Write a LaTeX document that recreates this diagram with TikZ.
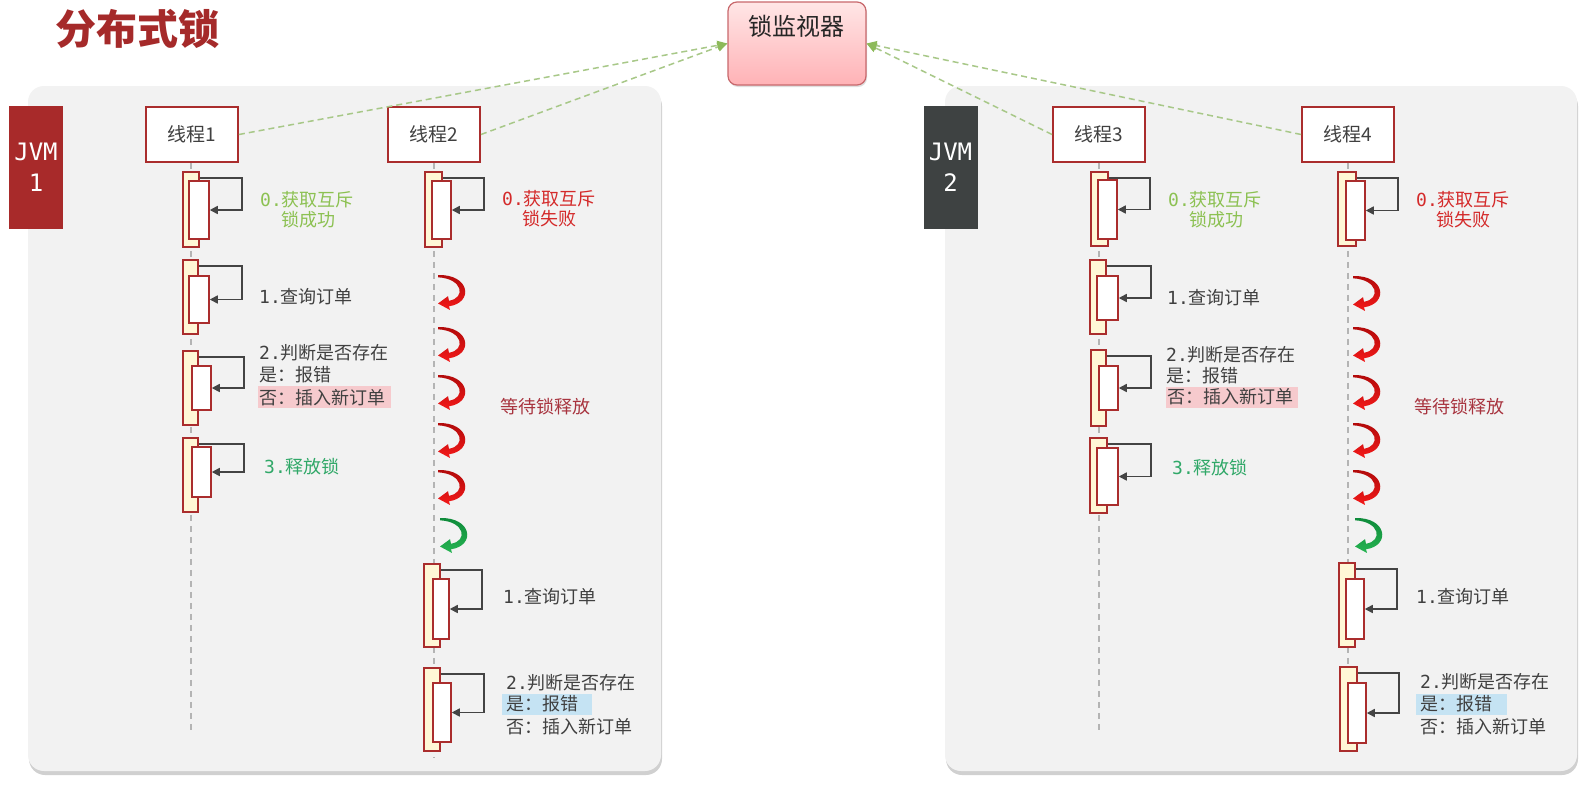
\documentclass[tikz,border=0pt]{standalone}
\usepackage{fontspec}
\setmainfont{Noto Sans CJK SC}
\newfontfamily\monof{DejaVu Sans Mono}
\usetikzlibrary{arrows.meta,shadows,calc}
\definecolor{dred}{HTML}{AA2D2D}
\definecolor{titlered}{HTML}{A52A2A}
\definecolor{jvmred}{HTML}{A82A2A}
\definecolor{jvmgray}{HTML}{3E4242}
\definecolor{panelbg}{HTML}{F2F2F2}
\definecolor{actfill}{HTML}{FFF7D6}
\definecolor{loopgray}{HTML}{444444}
\definecolor{lifegray}{HTML}{B4B4B4}
\definecolor{txtgray}{HTML}{404040}
\definecolor{okgreen}{HTML}{8CC152}
\definecolor{failred}{HTML}{D42A2A}
\definecolor{relgreen}{HTML}{30A868}
\definecolor{waitred}{HTML}{A8343F}
\definecolor{hlpink}{HTML}{F6CACD}
\definecolor{hlblue}{HTML}{C5E3F3}
\definecolor{syncgreen}{HTML}{A8C888}
\definecolor{synchead}{HTML}{8DBA5A}
\definecolor{monborder}{HTML}{C8686C}
\definecolor{montop}{HTML}{FFE6E6}
\definecolor{monbot}{HTML}{FFB2B6}
\definecolor{wred1}{HTML}{B00A0A}
\definecolor{wred2}{HTML}{F41A1A}
\definecolor{wgreen1}{HTML}{0E8A3A}
\definecolor{wgreen2}{HTML}{26B452}

\tikzset{
  panel/.style={fill=panelbg, rounded corners=16pt, drop shadow={shadow xshift=1pt, shadow yshift=-4pt, opacity=0.3, fill=black!60}},
  jvmbox/.style={inner sep=0pt, minimum width=54pt, minimum height=123pt, text=white, align=center, font=\monof\fontsize{24}{31}\selectfont},
  threadbox/.style={draw=dred, line width=1.9pt, fill=white, inner sep=0pt, minimum width=92pt, minimum height=55pt, font=\fontsize{19}{22}\selectfont, text=txtgray},
  monbox/.style={draw=monborder, line width=1.2pt, top color=montop, bottom color=monbot, rounded corners=9pt, inner sep=0pt, minimum width=138pt, minimum height=83pt, drop shadow={shadow xshift=1pt, shadow yshift=-2pt, opacity=0.25}},
  syncline/.style={draw=syncgreen, line width=1.5pt, dash pattern=on 6pt off 4pt, -{Triangle[length=10pt,width=9pt,color=synchead,fill=synchead]}},
  lifeline/.style={draw=lifegray, line width=1.5pt, dash pattern=on 6pt off 5pt},
  actout/.style={draw=dred, line width=1.5pt, fill=actfill, inner sep=0pt},
  actin/.style={draw=dred, line width=1.5pt, fill=white, inner sep=0pt},
  selfloop/.style={draw=loopgray, line width=1.6pt, -{Triangle[length=8pt,width=8pt]}},
  txt/.style={inner sep=0pt, anchor=west, font=\fontsize{18}{22}\selectfont, text=txtgray},
  ctxt/.style={inner sep=0pt, anchor=center, font=\fontsize{18}{22}\selectfont},
}

\newcommand\actv[9]{%
  \node[actout, minimum width={(#3-#2)*1pt}, minimum height={(#5-#4)*1pt}] (#1o) at ({(#2+#3)/2},{(#4+#5)/2}) {};
  \node[actin, minimum width={(#7-#6)*1pt}, minimum height={(#9-#8)*1pt}] (#1i) at ({(#6+#7)/2},{(#8+#9)/2}) {};
  \draw[selfloop] ([yshift=-7pt]#1o.north east) -| ([xshift=32pt]#1i.east) -- (#1i.east);
}
\newcommand\waitarrow[4]{%
  \path[top color=#3, bottom color=#4, shift={(#1,#2)}, yscale=0.92]
    (0,0) .. controls (32,-1) and (36,30) .. (11,34) -- (12,38) -- (0,31) -- (10,23) -- (11,28)
    .. controls (28,25) and (25,4) .. (0,2.5) -- cycle;
}

\begin{document}
\begin{tikzpicture}[x=1pt,y=-1pt]
\useasboundingbox (0,0) rectangle (1595,785);
\fill[white] (0,0) rectangle (1595,785);

% panels
\path[panel] (28,86) rectangle (661,771);
\path[panel] (945,86) rectangle (1577,771);

% title
\node[inner sep=0pt, anchor=west, text=titlered, font=\fontsize{41}{48}\selectfont\bfseries] (title) at (55,29) {分布式锁};

% JVM boxes
\node[jvmbox, fill=jvmred] (jvm1) at (36,167.5) {JVM\\1};
\node[jvmbox, fill=jvmgray] (jvm2) at (950.5,167) {JVM\\2};

% monitor
\node[monbox] (mon) at (797,43.5) {};
\node[inner sep=0pt, font=\fontsize{24}{28}\selectfont, text=black!85] (montxt) at (796,26) {锁监视器};

% thread boxes
\node[threadbox] (t1) at (192,134.5) {线程1};
\node[threadbox] (t2) at (434,134.5) {线程2};
\node[threadbox] (t3) at (1099,134.5) {线程3};
\node[threadbox] (t4) at (1348,134.5) {线程4};

% dashed sync arrows
\draw[syncline] (t1.east) -- (mon.west);
\draw[syncline] (t2.east) -- (mon.west);
\draw[syncline] (t3.west) -- (mon.east);
\draw[syncline] (t4.west) -- (mon.east);

% lifelines
\coordinate (e1) at (191,733);
\coordinate (e2) at (434,758);
\coordinate (e3) at (1099,733);
\coordinate (e4) at (1348,756);
\draw[lifeline] (e1 |- t1.south) -- (e1);
\draw[lifeline] (t2.south) -- (t2.south |- e2);
\draw[lifeline] (t3.south) -- (t3.south |- e3);
\draw[lifeline] (t4.south) -- (t4.south |- e4);

% activations
\actv{a0}{183}{199}{172}{247}{189}{209}{181}{239}
\actv{a1}{183}{198}{260}{334}{189}{209}{276}{323}
\actv{a2}{183}{198}{351}{425}{192}{211}{366}{410}
\actv{a3}{183}{198}{438}{512}{192}{211}{447}{497}
\actv{b0}{425}{442}{172}{247}{432}{451}{181}{239}
\actv{b1}{424}{440}{564}{647}{433}{449}{579}{639}
\actv{b2}{424}{440}{668}{751}{433}{451}{683}{742}
\actv{c0}{1091}{1108}{172}{246}{1098}{1117}{180}{239}
\actv{c1}{1090}{1106}{260}{334}{1097}{1118}{276}{320}
\actv{c2}{1091}{1106}{350}{426}{1099}{1118}{366}{410}
\actv{c3}{1090}{1107}{438}{513}{1097}{1118}{448}{505}
\actv{d0}{1338}{1356}{172}{246}{1346}{1365}{181}{240}
\actv{d1}{1339}{1355}{563}{647}{1346}{1364}{579}{639}
\actv{d2}{1340}{1357}{667}{751}{1348}{1366}{683}{743}

% waiting arrows
\waitarrow{438}{275}{wred1}{wred2}
\waitarrow{438}{327}{wred1}{wred2}
\waitarrow{438}{375}{wred1}{wred2}
\waitarrow{438}{423}{wred1}{wred2}
\waitarrow{438}{470}{wred1}{wred2}
\waitarrow{440}{518}{wgreen1}{wgreen2}
\waitarrow{1353}{276}{wred1}{wred2}
\waitarrow{1353}{327}{wred1}{wred2}
\waitarrow{1353}{375}{wred1}{wred2}
\waitarrow{1353}{423}{wred1}{wred2}
\waitarrow{1353}{470}{wred1}{wred2}
\waitarrow{1355}{518}{wgreen1}{wgreen2}

% highlights
\fill[hlpink] (258,386) rectangle (391,408);
\fill[hlpink] (1166,387) rectangle (1298,408);
\fill[hlblue] (502,694) rectangle (592,715);
\fill[hlblue] (1416,694) rectangle (1507,715);

% left panel texts
\node[ctxt, text=okgreen] (l1a) at (307,200) {{\monof 0.}获取互斥};
\node[ctxt, text=okgreen] (l1b) at (308,220) {锁成功};
\node[txt] (l2) at (259,297) {{\monof 1.}查询订单};
\node[txt] (l3a) at (259,353) {{\monof 2.}判断是否存在};
\node[txt] (l3b) at (259,375) {是：报错};
\node[txt] (l3c) at (259,398) {否：插入新订单};
\node[txt, text=relgreen] (l4) at (264,467) {{\monof 3.}释放锁};
\node[ctxt, text=failred] (m1a) at (549,199) {{\monof 0.}获取互斥};
\node[ctxt, text=failred] (m1b) at (549,219) {锁失败};
\node[txt, text=waitred] (m2) at (500,407) {等待锁释放};
\node[txt] (m3) at (503,597) {{\monof 1.}查询订单};
\node[txt] (m4a) at (506,683) {{\monof 2.}判断是否存在};
\node[txt] (m4b) at (506,704) {是：报错};
\node[txt] (m4c) at (506,727) {否：插入新订单};

% right panel texts
\node[ctxt, text=okgreen] (r1a) at (1215,200) {{\monof 0.}获取互斥};
\node[ctxt, text=okgreen] (r1b) at (1216,220) {锁成功};
\node[txt] (r2) at (1167,298) {{\monof 1.}查询订单};
\node[txt] (r3a) at (1166,355) {{\monof 2.}判断是否存在};
\node[txt] (r3b) at (1166,376) {是：报错};
\node[txt] (r3c) at (1167,397) {否：插入新订单};
\node[txt, text=relgreen] (r4) at (1172,468) {{\monof 3.}释放锁};
\node[ctxt, text=failred] (s1a) at (1463,200) {{\monof 0.}获取互斥};
\node[ctxt, text=failred] (s1b) at (1463,220) {锁失败};
\node[txt, text=waitred] (s2) at (1414,407) {等待锁释放};
\node[txt] (s3) at (1416,597) {{\monof 1.}查询订单};
\node[txt] (s4a) at (1420,682) {{\monof 2.}判断是否存在};
\node[txt] (s4b) at (1420,704) {是：报错};
\node[txt] (s4c) at (1420,727) {否：插入新订单};
\end{tikzpicture}
\end{document}
